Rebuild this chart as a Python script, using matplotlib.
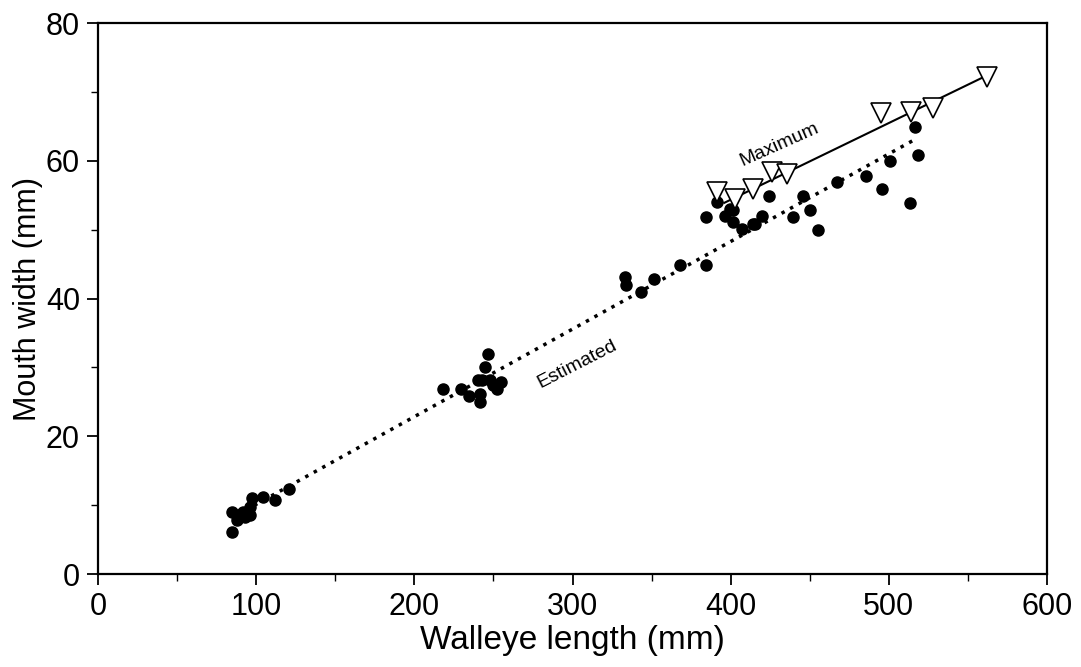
import matplotlib
matplotlib.use("Agg")
import matplotlib.pyplot as plt
from matplotlib.ticker import MultipleLocator

plt.rcParams['font.family'] = ['Liberation Sans', 'DejaVu Sans']

# Observed (filled circles)
obs_length = [84.5, 84.5, 87.7, 89, 91.7, 93, 96, 96, 97.2, 104.5, 111.9, 121,
              218.3, 229.5, 234.8, 240, 241.5, 241.5, 243, 244.7, 246.8, 248, 250, 252, 255,
              333.2, 333.8, 343.3, 351.5, 368, 384.4,
              384.2, 391.1, 396.4, 399.6, 401.7, 401.7, 406.9, 414.3, 415.4, 419.6, 424.4,
              439.6, 445.5, 450.2, 455.4, 467, 485.5, 495.5, 500.7, 513.4, 516.5, 518.6]
obs_width = [6.1, 9.0, 7.8, 8.5, 9.0, 8.3, 8.55, 9.75, 11.0, 11.2, 10.7, 12.4,
             26.9, 26.9, 25.9, 28.1, 25.0, 26.2, 28.1, 30.0, 32.0, 28.1, 27.5, 26.9, 27.9,
             43.1, 41.9, 40.9, 42.9, 44.9, 44.9,
             51.9, 54.0, 52.0, 53.0, 52.8, 51.1, 50.1, 50.8, 50.8, 52.0, 54.9,
             51.9, 54.9, 52.8, 49.9, 56.9, 57.8, 55.9, 59.9, 53.8, 64.9, 60.8]

# Maximum (open triangles)
max_length = [391.5, 402.7, 414.3, 425.9, 435.3, 494.8, 513.8, 528.1, 561.8]
max_width = [55.4, 54.4, 55.9, 58.3, 58.1, 67.0, 67.1, 67.7, 72.1]

# Fitted lines (endpoints)
est_line_x = [88, 516.5]
est_line_y = [8.6, 63.1]
max_line_x = [396, 563]
max_line_y = [53.9, 72.5]

fig = plt.figure(figsize=(10.81, 6.67), dpi=100)
ax = fig.add_axes([0.0907, 0.1394, 0.8779, 0.8261])

ax.plot(est_line_x, est_line_y, linestyle=(0, (1, 1.8)), color='black', linewidth=2.5, zorder=2)
ax.plot(max_line_x, max_line_y, linestyle='-', color='black', linewidth=1.5, zorder=2)
ax.plot(obs_length, obs_width, 'o', color='black', markersize=8, linestyle='none', zorder=3)
ax.plot(max_length, max_width, 'v', markerfacecolor='white', markeredgecolor='black',
        markersize=14, markeredgewidth=1.2, linestyle='none', zorder=4)

ax.text(431, 62.3, 'Maximum', rotation=24, ha='center', va='center', fontsize=14)
ax.text(303, 30.5, 'Estimated', rotation=27, ha='center', va='center', fontsize=14)

ax.set_xlim(0, 600)
ax.set_ylim(0, 80)
ax.xaxis.set_major_locator(MultipleLocator(100))
ax.xaxis.set_minor_locator(MultipleLocator(50))
ax.yaxis.set_major_locator(MultipleLocator(20))
ax.yaxis.set_minor_locator(MultipleLocator(10))
ax.tick_params(axis='both', which='major', direction='out', length=8, width=1.3,
               labelsize=22, top=False, right=False, pad=5)
ax.tick_params(axis='both', which='minor', direction='out', length=5, width=1.0,
               top=False, right=False)
for s in ax.spines.values():
    s.set_linewidth(1.6)

ax.set_xlabel('Walleye length (mm)', fontsize=24, labelpad=2)
ax.set_ylabel('Mouth width (mm)', fontsize=22, labelpad=2)

fig.savefig('out.png', dpi=100)
